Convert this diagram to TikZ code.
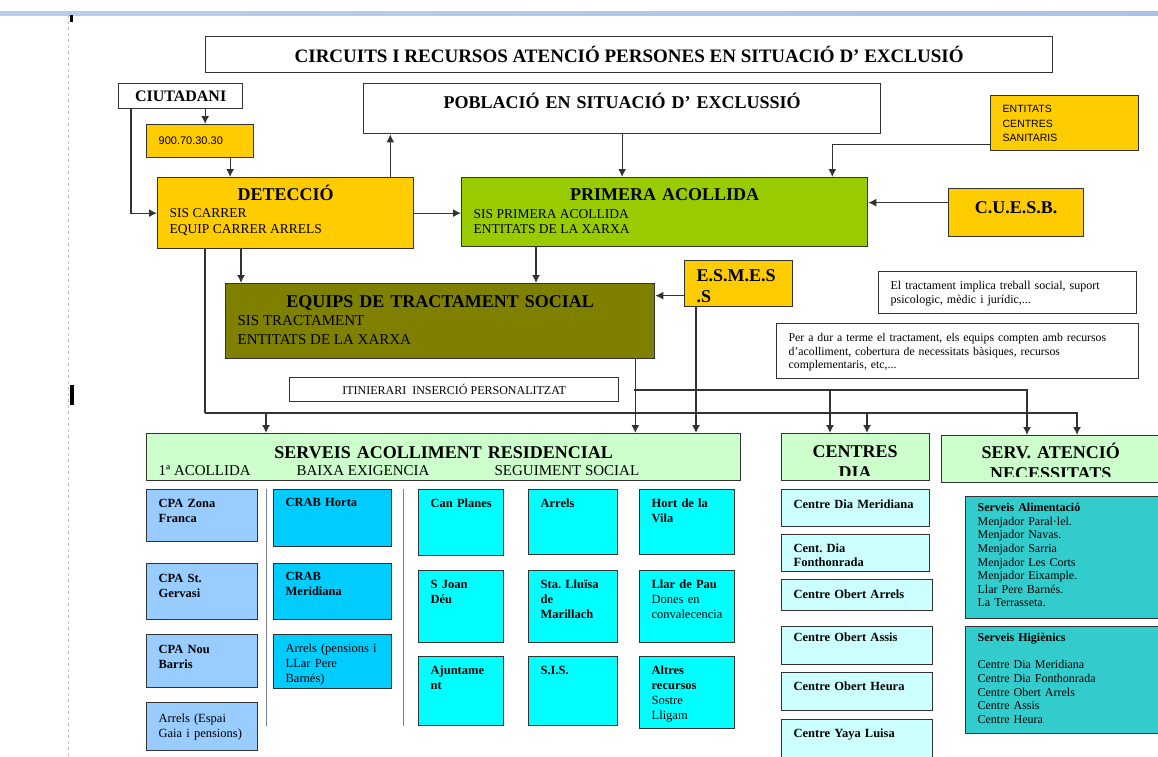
\documentclass[tikz,border=0pt]{standalone}
\usepackage{fontspec}
\setmainfont{Liberation Serif}
\setsansfont{Liberation Sans}
\usetikzlibrary{arrows.meta}

\definecolor{groc}{HTML}{FFCC00}
\definecolor{verd}{HTML}{99CC00}
\definecolor{oliva}{HTML}{808000}
\definecolor{verdclar}{HTML}{CCFFCC}
\definecolor{blauclar}{HTML}{99CCFF}
\definecolor{blaucel}{HTML}{00CCFF}
\definecolor{cian}{HTML}{00FFFF}
\definecolor{cianclar}{HTML}{CCFFFF}
\definecolor{turquesa}{HTML}{33CCCC}
\definecolor{vora}{HTML}{333333}
\definecolor{barra}{HTML}{A9C3E6}

\newcommand{\lletra}[2]{\fontsize{#1}{#2}\selectfont\spaceskip=0pt\xspaceskip=0pt}
\newcommand{\titol}{\fontsize{18}{21}\selectfont\bfseries}

\tikzset{
  mida/.style 2 args={minimum width=#1pt, minimum height=#2pt},
  dalt/.style n args={3}{align=left, inner xsep=12pt, inner ysep=0pt,
    text width=#1pt-24pt, text height=#3pt, text depth=#2pt-#3pt}
}

\begin{document}
\begin{tikzpicture}[x=1pt,y=-1pt]
\tikzstyle{caixa}=[draw=vora, line width=1.3pt, anchor=north west, inner sep=0pt]
\tikzstyle{cel}=[caixa, font={\lletra{12.5}{15}\bfseries}]
\tikzstyle{fletxa}=[draw=vora, line width=1.3pt, -{Latex[length=8pt,width=8pt]}]
\tikzstyle{linia}=[draw=vora, line width=1.3pt]
\useasboundingbox (0,0) rectangle (1158,756);

% marges de la pagina
\shade[left color=barra!80, right color=barra] (0,11) rectangle (1158,15);
\draw[barra, dashed, line width=0.8pt] (68,15) -- (68,756);
\fill (70,15) rectangle (73,22);
\fill (70,385) rectangle (74,405);

% capcalera i entrada
\node[caixa, mida={847}{36}, font=\lletra{19}{21}\bfseries] (titol) at (205,36) {CIRCUITS I RECURSOS ATENCIÓ PERSONES EN SITUACIÓ D’ EXCLUSIÓ};
\node[caixa, mida={124}{25}, font=\lletra{16}{18}\bfseries] (ciutadani) at (118,83) {CIUTADANI};
\node[caixa, fill=groc, dalt={107}{33}{20}, font=\sffamily\lletra{11}{13}] (telefon) at (146,124) {900.70.30.30};
\node[caixa, dalt={517}{50}{25}, align=center, font=\titol] (poblacio) at (363,83) {POBLACIÓ EN SITUACIÓ D’ EXCLUSSIÓ};
\node[caixa, fill=groc, dalt={148}{55}{17}, font=\sffamily\lletra{10.5}{14.5}] (entitats) at (990,95) {ENTITATS\\CENTRES\\SANITARIS};
\node[caixa, fill=groc, dalt={256}{71}{23}, font=\titol] (deteccio) at (157,177)
  {\makebox[\linewidth]{DETECCIÓ}\par\vspace{-4pt}\mdseries\lletra{13.5}{16}\parbox[t]{\linewidth}{SIS CARRER\\EQUIP CARRER ARRELS}};
\node[caixa, fill=verd, dalt={406}{69}{23}, font=\titol] (primera) at (461,177)
  {\makebox[\linewidth]{PRIMERA ACOLLIDA}\par\vspace{-3pt}\mdseries\lletra{13.5}{15}\parbox[t]{\linewidth}{SIS PRIMERA ACOLLIDA\\ENTITATS DE LA XARXA}};
\node[caixa, fill=groc, dalt={135}{48}{25}, align=center, font=\titol] (cuesb) at (948,188) {C.U.E.S.B.};

% tractament
\node[caixa, fill=oliva, dalt={429}{75}{24}, font=\titol] (equips) at (225,283)
  {\makebox[\linewidth]{EQUIPS DE TRACTAMENT SOCIAL}\par\vspace{-3pt}\mdseries\lletra{15}{19}\parbox[t]{\linewidth}{SIS TRACTAMENT\\ENTITATS DE LA XARXA}};
\node[caixa, fill=groc, dalt={108}{46}{21}, font=\titol] (esmes) at (684,260) {E.S.M.E.S\\.S};
\node[caixa, dalt={258}{42}{18}, font=\lletra{12}{14}] (nota1) at (878,271)
  {\mbox{El tractament implica treball social, suport}\\\mbox{psicologic, mèdic i jurídic,...}};
\node[caixa, dalt={362}{55}{18}, font=\lletra{11.8}{13.5}] (nota2) at (776,323)
  {\mbox{Per a dur a terme el tractament, els equips compten amb recursos}\\\mbox{d’acolliment, cobertura de necessitats bàsiques, recursos}\\\mbox{complementaris, etc,...}};
\node[caixa, mida={329}{24}, font=\lletra{12}{14}] (itinerari) at (289,377) {ITINIERARI\ \ INSERCIÓ PERSONALITZAT};

% recursos
\node[caixa, fill=verdclar, dalt={594}{47}{25}, font=\titol] (serveis) at (146,433)
  {\makebox[\linewidth]{SERVEIS ACOLLIMENT RESIDENCIAL}\par\vspace{-4pt}\mdseries\lletra{15}{17}\makebox[138pt][l]{1ª ACOLLIDA}\makebox[198pt][l]{BAIXA EXIGENCIA}SEGUIMENT SOCIAL};
\node[caixa, fill=verdclar, mida={148}{47}] (centresdia) at (781,433) {};
\node[caixa, fill=verdclar, mida={230}{47}] (servatencio) at (941,435) {};
\begin{scope}
\clip (781,433) rectangle (929,475);
\node[anchor=north west, dalt={148}{47}{24}, align=center, font=\titol] (centresdiat) at (781,433) {CENTRES\\DIA};
\end{scope}
\begin{scope}
\clip (941,435) rectangle (1158,476);
\node[anchor=north west, dalt={219}{47}{23}, align=center, font=\titol] (servatenciot) at (941,435) {SERV. ATENCIÓ\\NECESSITATS};
\end{scope}

\node[cel, fill=blauclar, dalt={111}{52}{18}] (cpa1) at (146,489) {CPA~Zona\\Franca};
\node[cel, fill=blauclar, dalt={111}{56}{19}] (cpa2) at (146,563) {CPA~St.\\Gervasi};
\node[cel, fill=blauclar, dalt={111}{53}{19}] (cpa3) at (146,634) {CPA~Nou\\Barris};
\node[cel, fill=blauclar, dalt={111}{48}{20}] (arrels1) at (146,702) {\mdseries Arrels~(Espai\\Gaia~i~pensions)};
\draw[gray, line width=1pt] (266,489) -- (266,726);

\node[cel, fill=blaucel, dalt={118}{57}{17}] (crab1) at (273,489) {CRAB~Horta};
\node[cel, fill=blaucel, dalt={118}{56}{17}] (crab2) at (273,563) {CRAB\\Meridiana};
\node[cel, fill=blaucel, dalt={118}{54}{18}] (arrels2) at (273,634) {\mdseries Arrels~(pensions~i\\LLar~Pere\\Barnés)};
\draw[gray, line width=1pt] (403,489) -- (403,726);

\node[cel, fill=cian, dalt={85}{66}{18}] (canplanes) at (418,489) {Can~Planes};
\node[cel, fill=cian, dalt={89}{65}{18}] (arrels3) at (528,489) {Arrels};
\node[cel, fill=cian, dalt={95}{65}{18}] (hort) at (639,489) {Hort~de~la\\Vila};
\node[cel, fill=cian, dalt={85}{72}{18}] (sjoan) at (418,570) {S~Joan\\Déu};
\node[cel, fill=cian, dalt={89}{72}{18}] (lluisa) at (528,570) {Sta.~Lluïsa\\de\\Marillach};
\node[cel, fill=cian, dalt={95}{72}{18}] (llardepau) at (639,570) {Llar~de~Pau\\\mdseries Dones~en\\convalecencia};
\node[cel, fill=cian, dalt={85}{69}{18}] (ajuntament) at (418,656) {Ajuntame\\nt};
\node[cel, fill=cian, dalt={89}{69}{18}] (sis) at (528,656) {S.I.S.};
\node[cel, fill=cian, dalt={95}{72}{18}] (altres) at (639,656) {Altres\\recursos\\\mdseries Sostre\\Lligam};

\node[cel, fill=cianclar, dalt={148}{37}{19}] (cd1) at (781,489) {Centre~Dia~Meridiana};
\node[cel, fill=cianclar, dalt={148}{37}{18}] (cd2) at (781,534) {Cent.~Dia\\[-1.5pt]Fonthonrada};
\node[cel, fill=cianclar, dalt={151}{31}{19}] (cd3) at (781,579) {Centre~Obert~Arrels};
\node[cel, fill=cianclar, dalt={151}{38}{15}] (cd4) at (781,626) {Centre~Obert~Assis};
\node[cel, fill=cianclar, dalt={151}{38}{18}] (cd5) at (781,672) {Centre~Obert~Heura};
\node[cel, fill=cianclar, dalt={151}{45}{18}] (cd6) at (781,719) {Centre~Yaya~Luisa};

\node[caixa, fill=turquesa, dalt={206}{122}{15}, font=\lletra{12}{13.6}] (aliment) at (965,496)
  {\textbf{Serveis Alimentació}\\Menjador Paral·lel.\\Menjador Navas.\\Menjador Sarria\\Menjador Les Corts\\Menjador Eixample.\\Llar Pere Barnés.\\La Terrasseta.};
\node[caixa, fill=turquesa, dalt={206}{107}{15}, font=\lletra{12}{13.6}] (higienics) at (965,626)
  {\textbf{Serveis Higiènics}\\[13.6pt]Centre Dia Meridiana\\Centre Dia Fonthonrada\\Centre Obert Arrels\\Centre Assis\\Centre Heura};

% circuits
\draw[fletxa] ([xshift=5pt]telefon.north |- ciutadani.south) -- ([xshift=5pt]telefon.north);
\draw[fletxa] ([xshift=30pt]telefon.south) -- ([xshift=30pt]telefon.south |- deteccio.north);
\draw[fletxa] ([xshift=13pt]ciutadani.south west) |- (deteccio.west);
\draw[fletxa] ([xshift=-24pt]deteccio.north east) -- ([xshift=-24pt]deteccio.north east |- poblacio.south);
\draw[fletxa] (deteccio.east) -- (deteccio.east -| primera.west);
\draw[fletxa] (poblacio.south) -- (poblacio.south |- primera.north);
\draw[fletxa] ([yshift=7pt]entitats.south west) -| ([xshift=-36pt]primera.north east);
\draw[fletxa] ([yshift=10pt]cuesb.west) -- ([yshift=10pt]cuesb.west -| primera.east);
\draw[fletxa] ([xshift=16pt]equips.north west |- deteccio.south) -- ([xshift=16pt]equips.north west);
\draw[fletxa] ([xshift=75pt]primera.south west) -- ([xshift=75pt]primera.south west |- equips.north);
\draw[fletxa] ([yshift=-12pt]esmes.west) -- ([yshift=-12pt]esmes.west -| equips.east);
\draw[fletxa] ([xshift=12pt]esmes.south west) -- ([xshift=12pt]esmes.south west |- serveis.north);
\draw[fletxa] ([xshift=-20pt]equips.south east) -- ([xshift=-20pt]equips.south east |- serveis.north);

\coordinate (busA) at (634,390);
\coordinate (busB) at (205,413);
\draw[linia] ([xshift=48pt]deteccio.south west) -- (busB);
\draw[fletxa] (busB) -| ([xshift=120pt]serveis.north west);
\draw[fletxa] (busB) -| ([xshift=86pt]centresdia.north west);
\draw[fletxa] (busB) -| ([xshift=136pt]servatencio.north west);
\draw[fletxa] (busA) -| ([xshift=49pt]centresdia.north west);
\draw[fletxa] (busA) -| ([xshift=86pt]servatencio.north west);
\end{tikzpicture}
\end{document}
